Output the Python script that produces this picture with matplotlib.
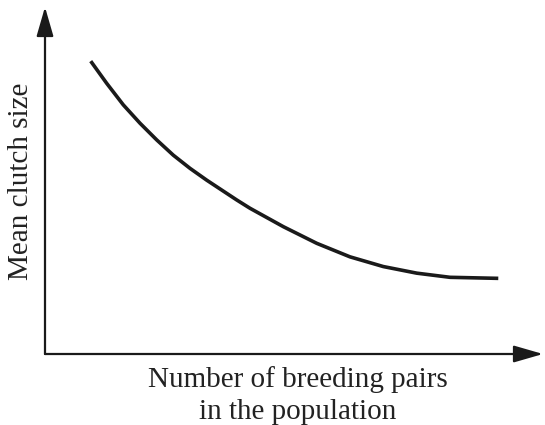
import matplotlib
matplotlib.use('Agg')
import matplotlib.pyplot as plt

# curve (arbitrary units, axes run 0-100 and 0-10)
pairs  = [9.18, 12.39, 15.72, 19.08, 22.43, 25.76, 29.12, 32.47, 38.49,
          41.16, 47.85, 54.56, 61.24, 67.93, 74.64, 81.33, 91.02]
clutch = [8.44, 7.80, 7.18, 6.65, 6.17, 5.73, 5.35, 5.01, 4.44,
          4.20, 3.67, 3.19, 2.80, 2.52, 2.33, 2.21, 2.18]

xlabel = 'Number of breeding pairs\nin the population'
ylabel = 'Mean clutch size'

plt.rcParams['font.family'] = ['Liberation Serif', 'DejaVu Serif']

fig = plt.figure(figsize=(5.45, 4.25), dpi=100)
ax = fig.add_axes([45/545, 71/425, 498/545, 347/425])
ax.set_xlim(0, 100)
ax.set_ylim(0, 10)
ax.axis('off')

# curve
ax.plot(pairs, clutch, color='#1a1a1a', lw=2.6, solid_capstyle='butt',
        solid_joinstyle='round')

# axes with arrow heads
arr = dict(arrowstyle='-|>,head_length=0.9,head_width=0.26', color='#1a1a1a',
           lw=1.6, mutation_scale=20, shrinkA=0, shrinkB=0)
ax.annotate('', xy=(100, 0), xytext=(0, 0), arrowprops=arr, annotation_clip=False)
ax.annotate('', xy=(0, 10), xytext=(0, 0), arrowprops=arr, annotation_clip=False)

# labels
fig.text(298/545, 1 - 396/425, xlabel, ha='center', va='center',
         fontsize=21, color='#222222', linespacing=1.3)
fig.text(21/545, 1 - 181/425, ylabel, ha='center', va='center',
         rotation=90, fontsize=21, color='#222222')

fig.savefig('out.png', dpi=100)
